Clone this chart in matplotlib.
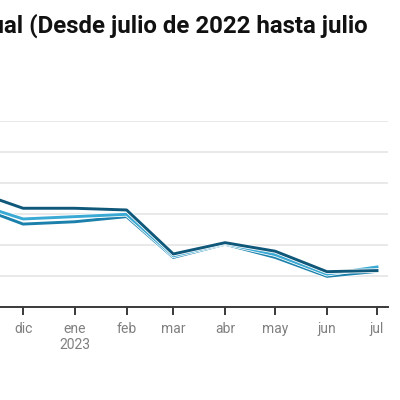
import numpy as np
import pandas as pd
import matplotlib
matplotlib.use('Agg')
import matplotlib.pyplot as plt
import matplotlib.dates as mdates
import matplotlib.patheffects as pe

# monthly values (%), nov 2022 .. jul 2023
months = pd.date_range('2022-11-01', '2023-07-01', freq='MS')
serie_a = [7.5, 6.37, 6.37, 6.26, 3.42, 4.15, 3.6, 2.28, 2.35]   # dark
serie_b = [6.72, 5.68, 5.83, 5.98, 3.3, 4.1, 3.38, 2.12, 2.58]   # light cyan
serie_c = [6.56, 5.35, 5.5, 5.83, 3.2, 4.05, 3.2, 1.98, 2.3]     # teal
tick_labels = ['dic', 'ene\n2023', 'feb', 'mar', 'abr', 'may', 'jun', 'jul']

plt.rcParams['font.family'] = ['Roboto', 'DejaVu Sans']

fig = plt.figure(figsize=(4, 4), dpi=100)
fig.patch.set_facecolor('white')

ax = fig.add_axes([0, 0.2325, 0.97, 0.465])

outline = [pe.Stroke(linewidth=3.3, foreground='white'), pe.Normal()]
ax.plot(months, serie_c, color='#1b80ab', lw=2.1, path_effects=outline)
ax.plot(months, serie_b, color='#3aa9d3', lw=2.1, path_effects=outline)
ax.plot(months, serie_a, color='#10587a', lw=2.1, path_effects=outline)

ax.set_xlim(pd.Timestamp('2022-11-17 04:00'), pd.Timestamp('2023-07-07 14:00'))
ax.set_ylim(0, 12)
ax.set_yticks(np.arange(0, 13, 2))
ax.yaxis.grid(True, color='#e9e9e9', lw=1.4)
ax.set_axisbelow(True)
ax.tick_params(axis='y', left=False, labelleft=False)

ax.set_xticks(months[1:])
ax.set_xticklabels(tick_labels, color='#808080', fontsize=10, linespacing=1.15)
ax.tick_params(axis='x', length=6, width=1.4, color='#3a3a3a', pad=5)

for s in ['top', 'left', 'right']:
    ax.spines[s].set_visible(False)
ax.spines['bottom'].set_color('#3a3a3a')
ax.spines['bottom'].set_linewidth(1.4)

fig.text(0.92, 1 - 32.5 / 400, 'Inflación interanual (Desde julio de 2022 hasta julio',
         ha='right', va='baseline', fontsize=17.3, fontweight='bold', color='#111111')

plt.savefig('out.png', dpi=100)
